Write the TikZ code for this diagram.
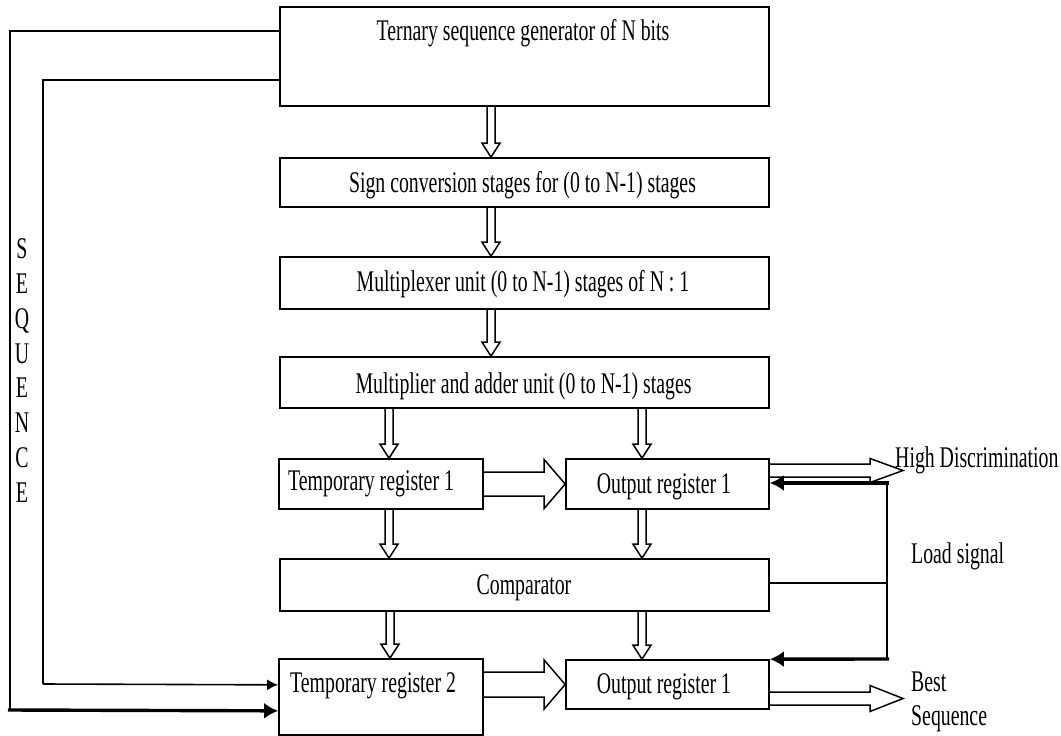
\documentclass[tikz,border=0pt]{standalone}
\usepackage{fontspec}
\setmainfont{Liberation Serif}[FakeStretch=0.66]
\usetikzlibrary{arrows.meta,calc}
\newcommand{\fatdown}[3]{%
  \draw[fat] let \p1=(#2.south), \p2=(#3.north) in
  ({#1pt-4pt},\y1) -- ({#1pt-4pt},{\y2+14pt}) -- ({#1pt-9pt},{\y2+14pt}) -- (#1pt,\y2)
  -- ({#1pt+9pt},{\y2+14pt}) -- ({#1pt+4pt},{\y2+14pt}) -- ({#1pt+4pt},\y1);}
\newcommand{\fatright}[5]{%
  \draw[fat] let \p1=(#1), \p2=(#2) in
  (\x1,{\y2+#3pt}) -- ({\x2-#5pt},{\y2+#3pt}) -- ({\x2-#5pt},{\y2+#4pt}) -- (\x2,\y2)
  -- ({\x2-#5pt},{\y2-#4pt}) -- ({\x2-#5pt},{\y2-#3pt}) -- (\x1,{\y2-#3pt});}
\begin{document}
\begin{tikzpicture}[x=1pt,y=1pt,
  box/.style={draw, line width=1.7pt, rectangle, inner sep=0pt},
  lbl/.style={inner sep=0pt, font=\fontsize{30}{36}\selectfont},
  fat/.style={draw, line width=1.5pt, line join=miter},
  wire/.style={line width=1.6pt},
  bigwire/.style={line width=3.4pt},
  thinhead/.style={-{Latex[length=11pt,width=11pt]}},
  bighead/.style={-{Latex[length=14pt,width=16pt]}}]
\useasboundingbox (0,0) rectangle (1061,-736);

% blocks
\node[box, minimum width=489pt, minimum height=99pt] (gen)  at (524.5,-56.5) {};
\node[box, minimum width=489pt, minimum height=49pt] (sign) at (524.5,-182.5) {};
\node[box, minimum width=489pt, minimum height=52pt] (mux)  at (524.5,-283) {};
\node[box, minimum width=489pt, minimum height=51pt] (mult) at (524.5,-382.5) {};
\node[box, minimum width=204pt, minimum height=50pt] (t1)   at (381,-484) {};
\node[box, minimum width=203pt, minimum height=50pt] (o1)   at (667.5,-484) {};
\node[box, minimum width=489pt, minimum height=52pt] (comp) at (524.5,-585) {};
\node[box, minimum width=204pt, minimum height=76pt] (t2)   at (381,-697) {};
\node[box, minimum width=203pt, minimum height=49pt] (o2)   at (667.5,-684.5) {};

% texts
\node[lbl, anchor=base] (tgen)  at (523,-40)  {Ternary sequence generator of N bits};
\node[lbl, anchor=base] (tsign) at (522.5,-192) {Sign conversion stages for (0 to N-1) stages};
\node[lbl, anchor=base] (tmux)  at (523,-291) {Multiplexer unit (0 to N-1) stages of N : 1};
\node[lbl, anchor=base] (tmult) at (523.5,-393) {Multiplier and adder unit (0 to N-1) stages};
\node[lbl, anchor=base west] (tt1) at (288,-490) {Temporary register 1};
\node[lbl, anchor=base] (to1)  at (664,-493) {Output register 1};
\node[lbl, anchor=base] (tcomp) at (524,-594) {Comparator};
\node[lbl, anchor=base west] (tt2) at (290,-692) {Temporary register 2};
\node[lbl, anchor=base] (to2)  at (664,-693) {Output register 1};
\node[lbl, anchor=base west] (thd) at (895,-467) {High Discrimination};
\node[lbl, anchor=base west] (tload) at (911,-563) {Load signal};
\node[lbl, anchor=base west] (tbest) at (911,-691) {Best};
\node[lbl, anchor=base west] (tseq) at (911,-725) {Sequence};
\node[inner sep=0pt, align=center, font=\fontsize{30}{34.75}\selectfont] (tsq) at (22,-370.5)
  {S\\E\\Q\\U\\E\\N\\C\\E};

% hollow bus arrows
\fatdown{491}{gen}{sign}
\fatdown{491}{sign}{mux}
\fatdown{491}{mux}{mult}
\fatdown{389}{mult}{t1}
\fatdown{642}{mult}{o1}
\fatdown{389}{t1}{comp}
\fatdown{642}{o1}{comp}
\fatdown{390}{comp}{t2}
\fatdown{642}{comp}{o2}
\fatright{t1.east}{o1.west}{12}{24.5}{21}
\fatright{t2.east}{o2.west}{12.5}{24.5}{21}
\coordinate (hdtip) at (903,-470.5);
\coordinate (bstip) at (903,-698.5);
\fatright{o1.east}{hdtip}{6.5}{12}{33}
\fatright{o2.east}{bstip}{6.5}{13}{33}

% sequence feedback wires
\coordinate (outerc) at (10,-710);
\coordinate (innerc) at (43,-684);
\draw[wire] ($(gen.north west)+(0,-25)$) -| (outerc);
\draw[bigwire, bighead] (8,-710) -- ($(t2.south west)+(0,25)$);
\draw[wire] ($(gen.north west)+(0,-74)$) -| (innerc);
\draw[wire, thinhead] (innerc) -- ($(t2.south west)+(0,51)$);

% load signal
\coordinate (ltop) at (887,-483);
\coordinate (lbot) at (887,-659);
\draw[wire] (comp.east |- 0,-583) -- (887,-583);
\draw[wire] (ltop) -- (lbot);
\draw[bigwire, bighead] (889,-483) -- ($(o1.east)+(0,1)$);
\draw[bigwire, bighead] (889,-659) -- (o2.north east);
\end{tikzpicture}
\end{document}
